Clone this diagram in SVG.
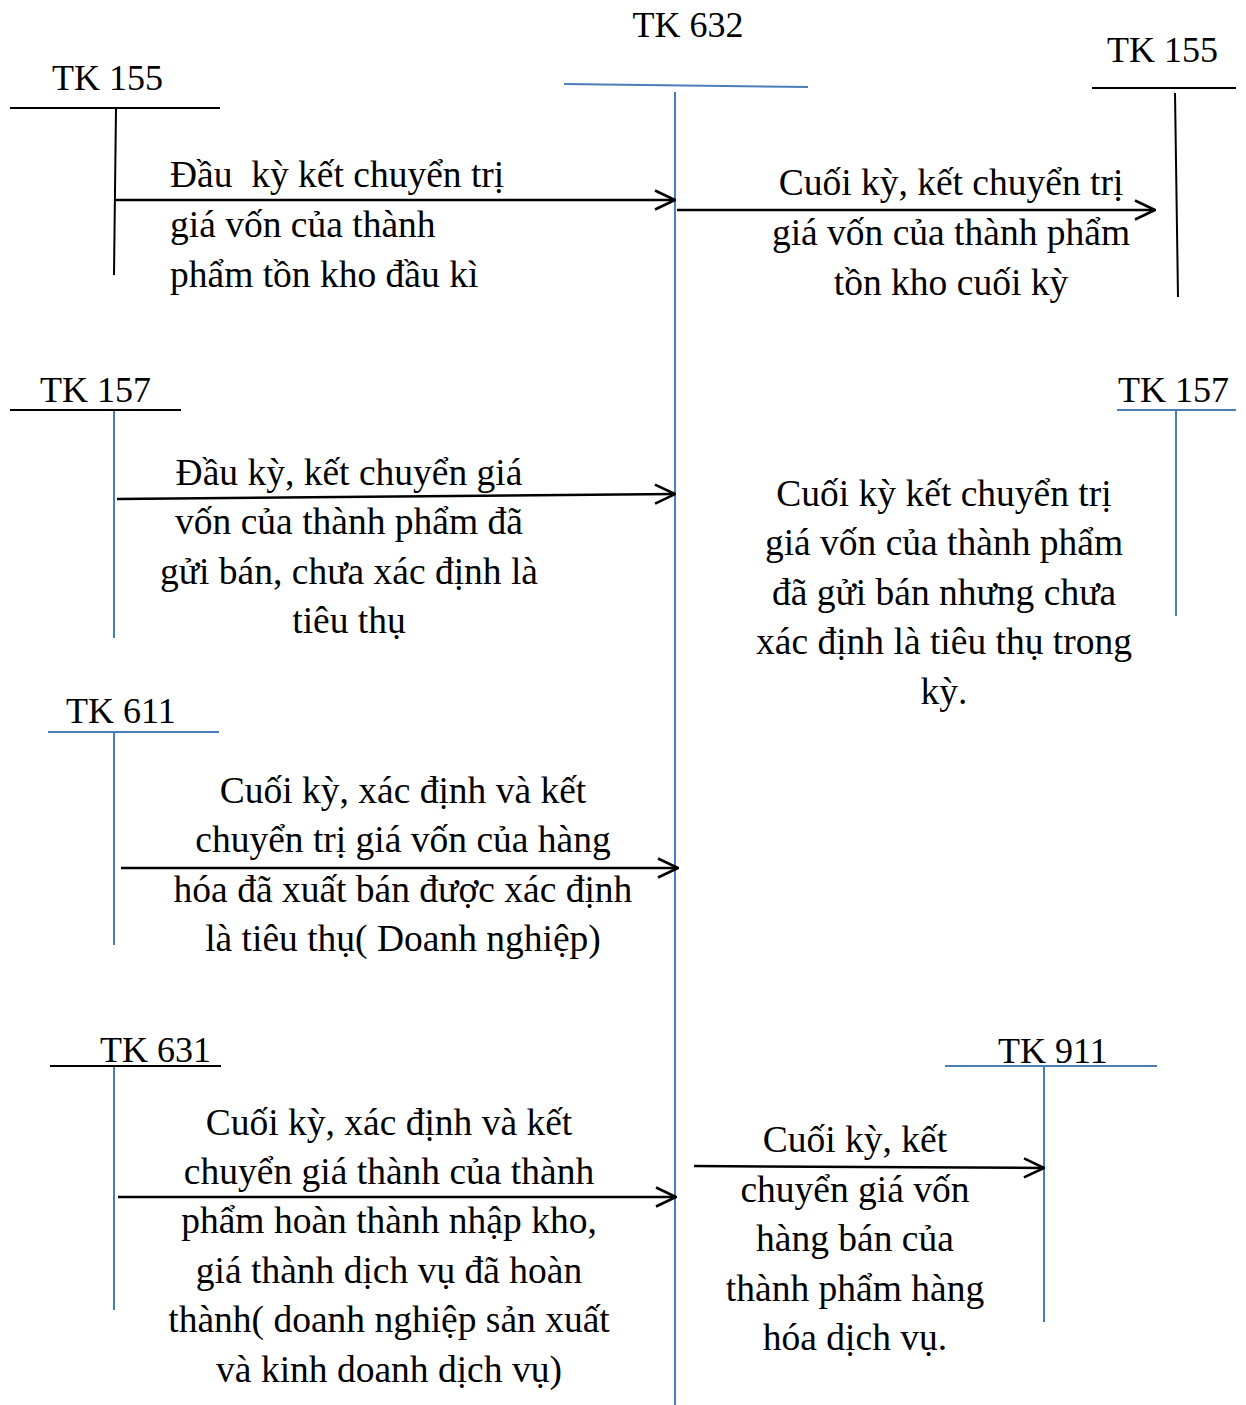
<svg xmlns="http://www.w3.org/2000/svg" width="1246" height="1405" viewBox="0 0 1246 1405">
  <style>
    text { font-family: "Liberation Serif", "Times New Roman", serif; font-size: 37.5px; fill: #000; }
    .acc { font-size: 36px; }
    .mid { text-anchor: middle; }
    .blk { stroke: #000; stroke-width: 2; fill: none; }
    .blu { stroke: #4a7ebb; stroke-width: 2; fill: none; }
    .arr { stroke: #000; stroke-width: 2.5; fill: none; marker-end: url(#head); }
  </style>
  <defs>
    <marker id="head" viewBox="0 0 22 22" refX="21" refY="11" markerWidth="22" markerHeight="22" markerUnits="userSpaceOnUse" orient="auto">
      <path d="M1,1.5 L21,11 L1,20.5" fill="none" stroke="#000" stroke-width="2.5"/>
    </marker>
  </defs>
  <rect width="1246" height="1405" fill="#fff"/>

  <!-- central account TK 632 -->
  <g id="tk632">
    <text class="acc mid" x="688" y="37">TK 632</text>
    <line class="blu" x1="564" y1="84" x2="808" y2="87"/>
    <line class="blu" x1="675" y1="92" x2="675" y2="1405"/>
  </g>

  <g id="tk155-left">
    <text class="acc" x="52" y="90">TK 155</text>
    <line class="blk" x1="10" y1="108" x2="220" y2="108"/>
    <line class="blk" x1="116" y1="109" x2="114" y2="275"/>
  </g>

  <g id="tk155-right">
    <text class="acc" x="1107" y="62">TK 155</text>
    <line class="blk" x1="1092" y1="88" x2="1236" y2="88"/>
    <line class="blk" x1="1175" y1="93" x2="1178" y2="297"/>
  </g>

  <g id="tk157-left">
    <text class="acc" x="40" y="402">TK 157</text>
    <line class="blk" x1="10" y1="410" x2="181" y2="410"/>
    <line class="blu" x1="114" y1="411" x2="114" y2="638"/>
  </g>

  <g id="tk157-right">
    <text class="acc" x="1118" y="402">TK 157</text>
    <line class="blu" x1="1117" y1="410" x2="1236" y2="410"/>
    <line class="blu" x1="1176" y1="411" x2="1176" y2="616"/>
  </g>

  <g id="tk611">
    <text class="acc" x="66" y="723">TK 611</text>
    <line class="blu" x1="48" y1="732" x2="219" y2="732"/>
    <line class="blu" x1="114" y1="733" x2="114" y2="945"/>
  </g>

  <g id="tk631">
    <text class="acc" x="100" y="1062">TK 631</text>
    <line class="blk" x1="50" y1="1066" x2="221" y2="1066"/>
    <line class="blu" x1="114" y1="1067" x2="114" y2="1310"/>
  </g>

  <g id="tk911">
    <text class="acc" x="998" y="1063">TK 911</text>
    <line class="blu" x1="945" y1="1066" x2="1157" y2="1066"/>
    <line class="blu" x1="1044" y1="1067" x2="1044" y2="1322"/>
  </g>

  <!-- transfer arrows -->
  <g id="connectors">
    <line class="arr" x1="116" y1="200" x2="675" y2="200"/>
    <line class="arr" x1="677" y1="210" x2="1155" y2="210"/>
    <line class="arr" x1="117" y1="499" x2="675" y2="494"/>
    <line class="arr" x1="121" y1="868" x2="678" y2="868"/>
    <line class="arr" x1="118" y1="1197" x2="676" y2="1197"/>
    <line class="arr" x1="694" y1="1166" x2="1044" y2="1168"/>
  </g>

  <!-- arrow descriptions -->
  <g id="labels">
    <text x="170" y="187" xml:space="preserve">Đầu  kỳ kết chuyển trị</text>
    <text x="170" y="237">giá vốn của thành</text>
    <text x="170" y="287">phẩm tồn kho đầu kì</text>

    <text class="mid" x="951" y="195">Cuối kỳ, kết chuyển trị</text>
    <text class="mid" x="951" y="245">giá vốn của thành phẩm</text>
    <text class="mid" x="951" y="295">tồn kho cuối kỳ</text>

    <text class="mid" x="349" y="485">Đầu kỳ, kết chuyển giá</text>
    <text class="mid" x="349" y="534">vốn của thành phẩm đã</text>
    <text class="mid" x="349" y="584">gửi bán, chưa xác định là</text>
    <text class="mid" x="349" y="633">tiêu thụ</text>

    <text class="mid" x="944" y="506">Cuối kỳ kết chuyển trị</text>
    <text class="mid" x="944" y="555">giá vốn của thành phẩm</text>
    <text class="mid" x="944" y="605">đã gửi bán nhưng chưa</text>
    <text class="mid" x="944" y="654">xác định là tiêu thụ trong</text>
    <text class="mid" x="944" y="704">kỳ.</text>

    <text class="mid" x="403" y="803">Cuối kỳ, xác định và kết</text>
    <text class="mid" x="403" y="852">chuyển trị giá vốn của hàng</text>
    <text class="mid" x="403" y="902">hóa đã xuất bán được xác định</text>
    <text class="mid" x="403" y="951">là tiêu thụ( Doanh nghiệp)</text>

    <text class="mid" x="389" y="1135">Cuối kỳ, xác định và kết</text>
    <text class="mid" x="389" y="1184">chuyển giá thành của thành</text>
    <text class="mid" x="389" y="1233">phẩm hoàn thành nhập kho,</text>
    <text class="mid" x="389" y="1283">giá thành dịch vụ đã hoàn</text>
    <text class="mid" x="389" y="1332">thành( doanh nghiệp sản xuất</text>
    <text class="mid" x="389" y="1382">và kinh doanh dịch vụ)</text>

    <text class="mid" x="855" y="1152">Cuối kỳ, kết</text>
    <text class="mid" x="855" y="1202">chuyển giá vốn</text>
    <text class="mid" x="855" y="1251">hàng bán của</text>
    <text class="mid" x="855" y="1301">thành phẩm hàng</text>
    <text class="mid" x="855" y="1350">hóa dịch vụ.</text>
  </g>
</svg>
